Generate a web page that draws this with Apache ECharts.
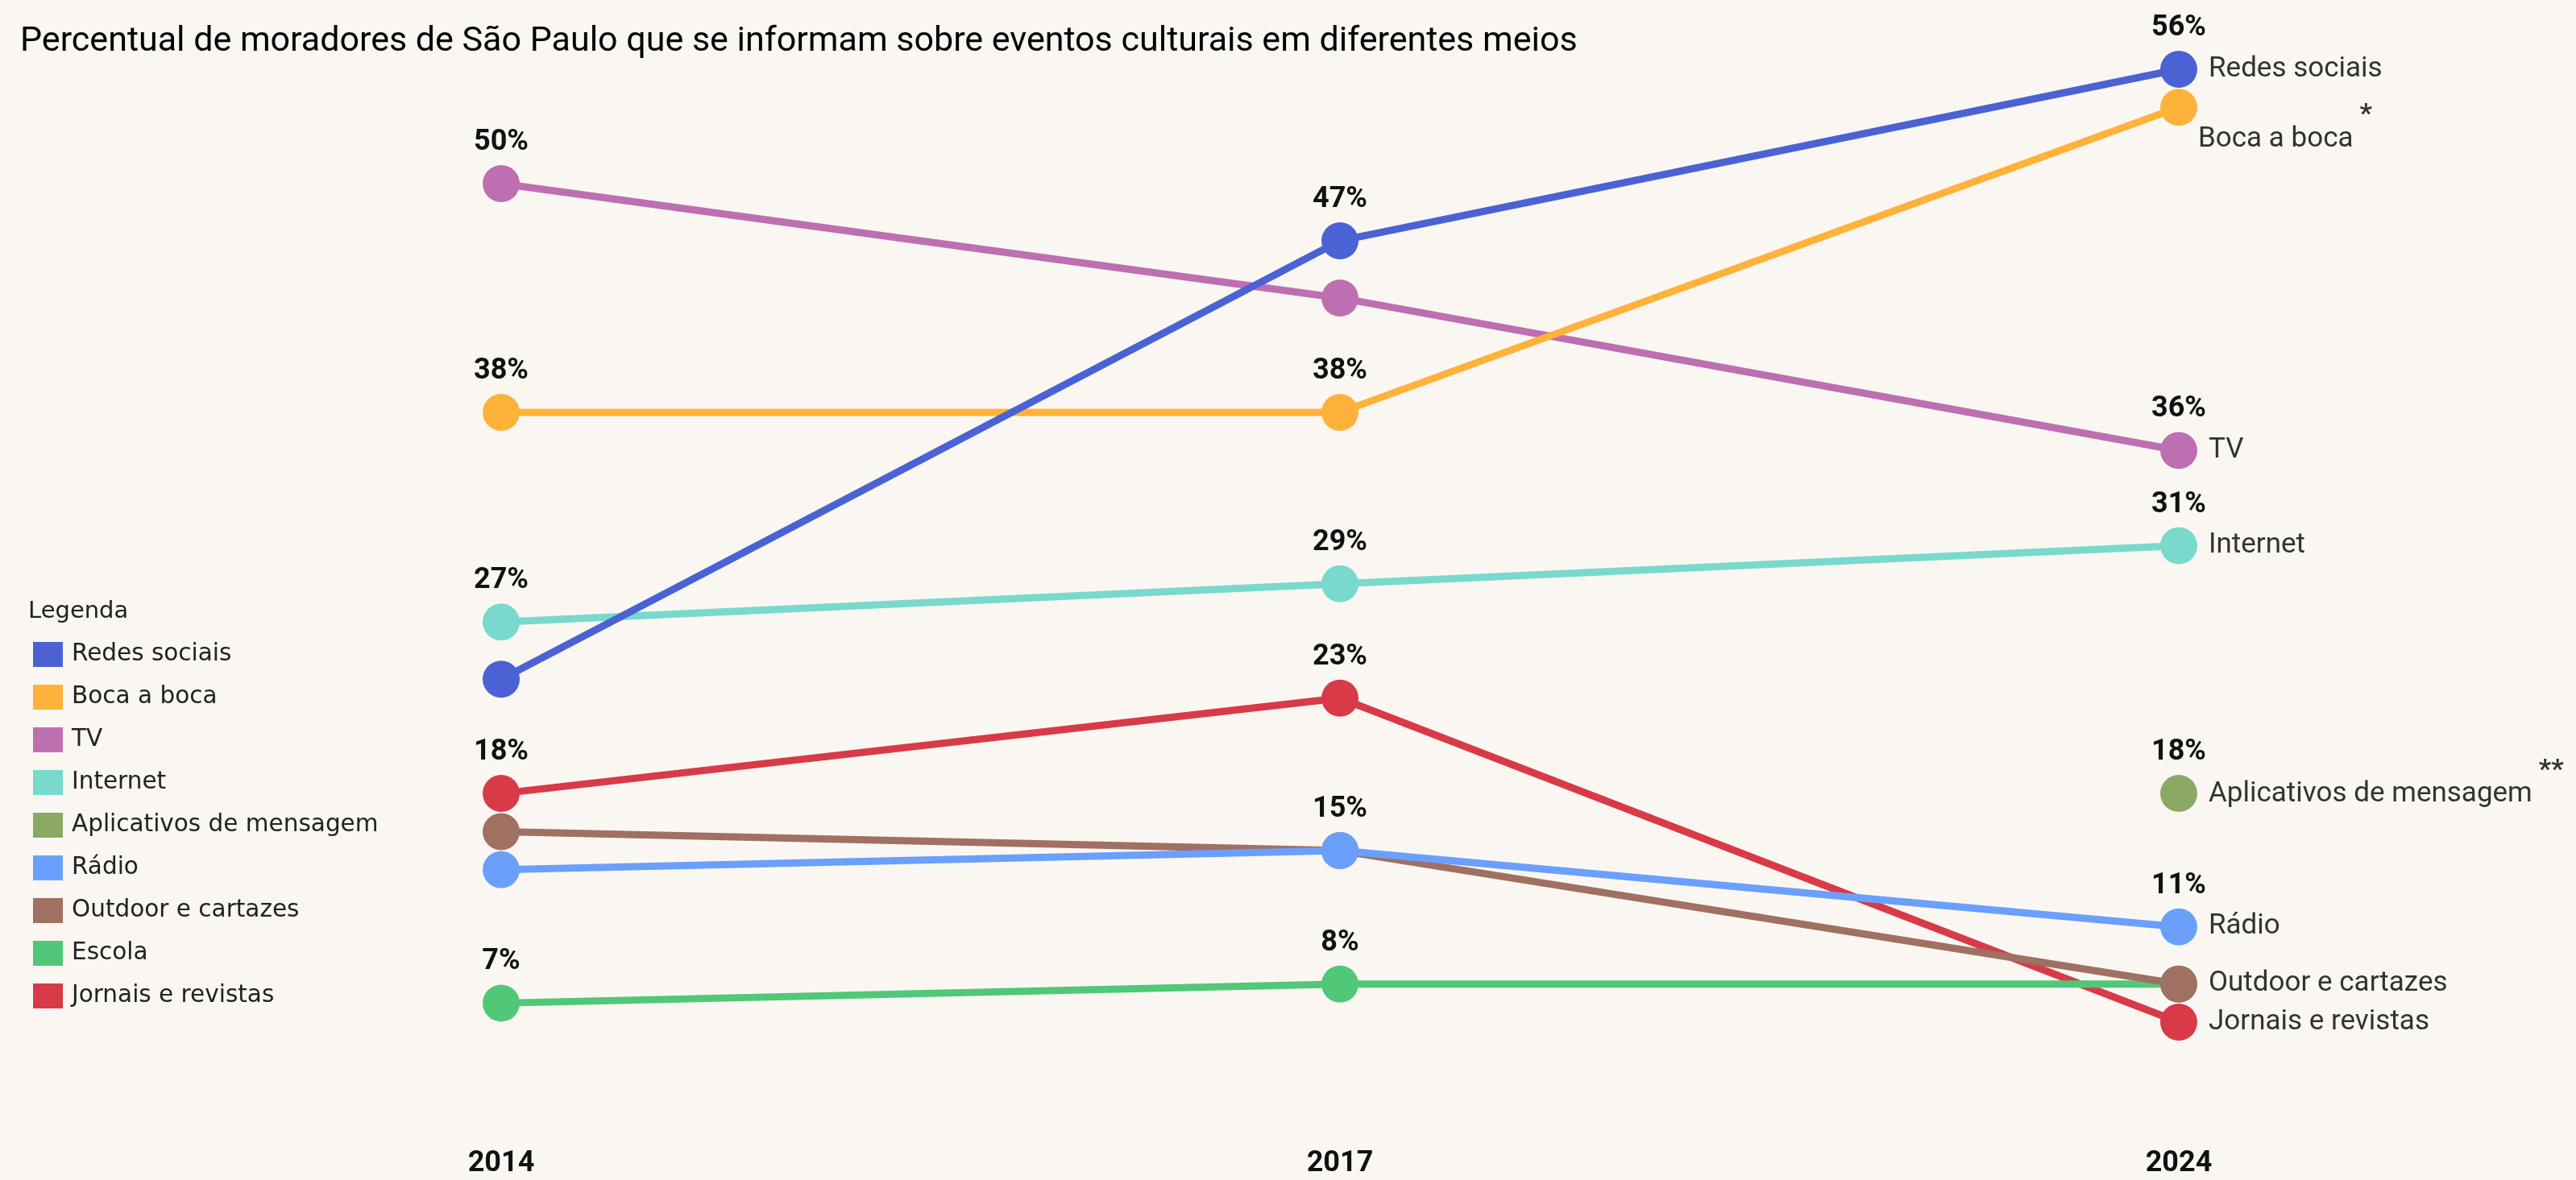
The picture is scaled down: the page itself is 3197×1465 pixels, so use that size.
<!DOCTYPE html>
<html>
<head>
<meta charset="utf-8">
<script src="https://cdn.jsdelivr.net/npm/echarts@6.0.0/dist/echarts.min.js"></script>
<style>
  html, body { margin: 0; padding: 0; background: #faf7f2; }
  #chart { width: 3197px; height: 1465px; }
</style>
</head>
<body>
<div id="chart"></div>
<script>
// anos da pesquisa
var anos = ['2014', '2017', '2024'];

// percentual por meio (null = sem dado no ano)
var redesSociais = [24, 47, 56];
var bocaABoca = [38, 38, 54];
var tv = [50, 44, 36];
var internet = [27, 29, 31];
var aplicativos = [null, null, 18];
var radio = [14, 15, 11];
var outdoor = [16, 15, 8];
var escola = [7, 8, 8];
var jornais = [18, 23, 6];

// quais pontos mostram o rotulo de percentual
var rotRedes = [false, true, true];
var rotBoca = [true, true, false];
var rotTv = [true, false, true];
var rotInternet = [true, true, true];
var rotAplicativos = [false, false, true];
var rotRadio = [false, true, true];
var rotOutdoor = [false, false, false];
var rotEscola = [true, true, false];
var rotJornais = [true, true, false];

var nomes = ['Redes sociais', 'Boca a boca', 'TV', 'Internet', 'Aplicativos de mensagem',
  'Rádio', 'Outdoor e cartazes', 'Escola', 'Jornais e revistas'];
// rotulo ao lado do ponto final e notas de rodape
var nomesFinais = ['Redes sociais', 'Boca a boca', 'TV', 'Internet', 'Aplicativos de mensagem',
  'Rádio', 'Outdoor e cartazes', '', 'Jornais e revistas'];
var notas = ['', '*', '', '', '**', '', '', '', ''];

var cores = ['#4a62d3', '#ffb23a', '#be6fb1', '#78d9cc', '#8ba965',
  '#6aa0fc', '#a07063', '#50c878', '#d93a48'];

var valores = [redesSociais, bocaABoca, tv, internet, aplicativos, radio, outdoor, escola, jornais];
var rotulos = [rotRedes, rotBoca, rotTv, rotInternet, rotAplicativos, rotRadio, rotOutdoor, rotEscola, rotJornais];

var fonte = 'Roboto';
var ultimo = anos.length - 1;

var series = [];
// desenha de tras pra frente para que Redes sociais fique por cima
for (let i = nomes.length - 1; i >= 0; i--) {
    series.push({
        name: nomes[i],
        type: 'line',
        symbol: 'circle',
        symbolSize: 46,
        showAllSymbol: true,
        lineStyle: { width: 9, color: cores[i] },
        itemStyle: { color: cores[i] },
        emphasis: { disabled: true },
        label: {
            show: false,
            position: 'top',
            distance: 10,
            fontFamily: fonte,
            fontSize: 36,
            fontWeight: 'bold',
            color: '#111',
            formatter: function (p) { return p.value + '%'; }
        },
        data: valores[i].map(function (v, j) {
            if (v == null) return '-';
            return { value: v, label: { show: rotulos[i][j] } };
        })
    });
}

// rotulos com o nome de cada meio ao lado do ponto de 2024
var finais = [];
nomes.forEach(function (n, i) {
    if (!nomesFinais[i]) return;
    var item = { name: nomesFinais[i], value: [ultimo, valores[i][ultimo]] };
    if (notas[i]) {
        // nome embaixo, asterisco elevado
        item.label = {
            formatter: '{n|' + nomesFinais[i] + '}{s|' + notas[i] + '}',
            offset: notas[i] === '*' ? [-13, 25] : [0, -13]
        };
    }
    finais.push(item);
});
series.push({
    name: 'rotulos',
    type: 'scatter',
    silent: true,
    symbolSize: 46,
    itemStyle: { color: 'rgba(0,0,0,0)' },
    z: 5,
    label: {
        show: true,
        position: 'right',
        distance: 14,
        fontFamily: fonte,
        fontSize: 35,
        color: '#000',
        formatter: '{b}',
        rich: {
            n: { fontFamily: fonte, fontSize: 35, lineHeight: 64, verticalAlign: 'bottom', color: '#000' },
            s: { fontFamily: fonte, fontSize: 34, lineHeight: 34, fontWeight: 'bold', padding: [0, 0, 0, 8], verticalAlign: 'top', color: '#000' }
        }
    },
    data: finais
});

var chart = echarts.init(document.getElementById('chart'));
chart.setOption({
    animation: false,
    backgroundColor: '#faf7f2',
    title: [{
        text: 'Percentual de moradores de São Paulo que se informam sobre eventos culturais em diferentes meios',
        left: 20,
        top: 26,
        textStyle: { fontFamily: fonte, fontSize: 43, fontWeight: 'normal', color: '#000' }
    }, {
        text: 'Legenda',
        left: 30,
        top: 740,
        textStyle: { fontFamily: 'DejaVu Sans', fontSize: 29, fontWeight: 'normal', color: '#222' }
    }],
    legend: {
        data: nomes,
        orient: 'vertical',
        left: 36,
        top: 792,
        icon: 'rect',
        itemWidth: 37,
        itemHeight: 31,
        itemGap: 22,
        selectedMode: false,
        textStyle: { fontFamily: 'DejaVu Sans', fontSize: 29.5, color: '#222', padding: [0, 0, 0, 6] }
    },
    grid: {
        left: 622,
        right: 493,
        top: 86,
        bottom: 54,
        outerBoundsMode: 'none'
    },
    xAxis: {
        type: 'category',
        data: anos,
        boundaryGap: false,
        axisLine: { show: false },
        axisTick: { show: false },
        splitLine: { show: false },
        axisLabel: { fontFamily: fonte, fontSize: 36, fontWeight: 'bold', color: '#111', margin: 16 }
    },
    yAxis: {
        type: 'value',
        min: 0,
        max: 56,
        show: false
    },
    series: series
});
</script>
</body>
</html>
